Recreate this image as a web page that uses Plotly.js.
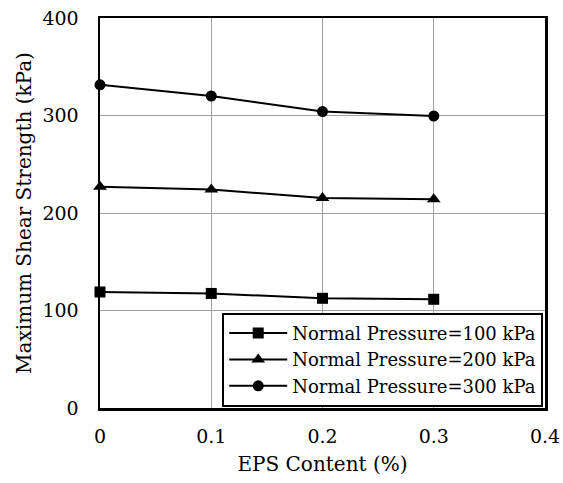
<!DOCTYPE html>
<html><head><meta charset="utf-8">
<script src="https://cdn.plot.ly/plotly-3.0.1.min.js"></script>
<style>
html,body{margin:0;padding:0;background:#fff}
#chart{width:563px;height:483px}
</style>
</head><body><div id="chart"></div>
<script>
const epsContent = [0, 0.1, 0.2, 0.3];
const seriesNames = ["Normal Pressure=100 kPa", "Normal Pressure=200 kPa", "Normal Pressure=300 kPa"];
const strength100 = [119, 117.5, 112.5, 111.5];
const strength200 = [227, 224, 215.5, 214];
const strength300 = [331.5, 320, 304, 299.5];
const symbols = ["square", "triangle-up", "circle"];
const xTicks = [0, 0.1, 0.2, 0.3, 0.4];
const xTickText = ["0", "0.1", "0.2", "0.3", "0.4"];
const yTicks = [0, 100, 200, 300, 400];

const ys = [strength100, strength200, strength300];
const traces = ys.map((y, i) => ({
  x: epsContent, y: y, name: seriesNames[i], type: "scatter", mode: "lines+markers",
  line: {color: "#000", width: 2},
  marker: {symbol: symbols[i], size: i === 1 ? 12 : 11, color: "#000"},
  cliponaxis: false
}));

const fam = "DejaVu Serif";
const f = (s) => ({family: fam, size: s, color: "#000"});
const layout = {
  width: 563, height: 483,
  margin: {l: 100, r: 18, t: 18, b: 75},
  paper_bgcolor: "#fff", plot_bgcolor: "#fff",
  font: f(18),
  showlegend: true,
  legend: {
    x: 0.996, y: 0.003, xanchor: "right", yanchor: "bottom",
    bgcolor: "#fff", bordercolor: "#000", borderwidth: 2,
    font: f(18),
    tracegroupgap: 0, itemwidth: 58
  },
  xaxis: {
    range: [0, 0.4], tickvals: xTicks, ticktext: xTickText,
    showgrid: true, gridcolor: "#a0a0a0", gridwidth: 1,
    showline: true, linecolor: "#000", linewidth: 2.5, mirror: true,
    ticks: "outside", ticklen: 10, tickcolor: "rgba(0,0,0,0)", zeroline: false,
    tickfont: f(19),
    title: {text: "EPS Content (%)", font: f(20), standoff: 11}
  },
  yaxis: {
    range: [0, 400], tickvals: yTicks,
    showgrid: true, gridcolor: "#a0a0a0", gridwidth: 1,
    showline: true, linecolor: "#000", linewidth: 2.5, mirror: true,
    ticks: "outside", ticklen: 15, tickcolor: "rgba(0,0,0,0)", zeroline: false,
    tickfont: f(19),
    title: {text: "Maximum Shear Strength (kPa)", font: f(20), standoff: 6}
  }
};
Plotly.newPlot("chart", traces, layout, {staticPlot: true, displayModeBar: false});
</script></body></html>
